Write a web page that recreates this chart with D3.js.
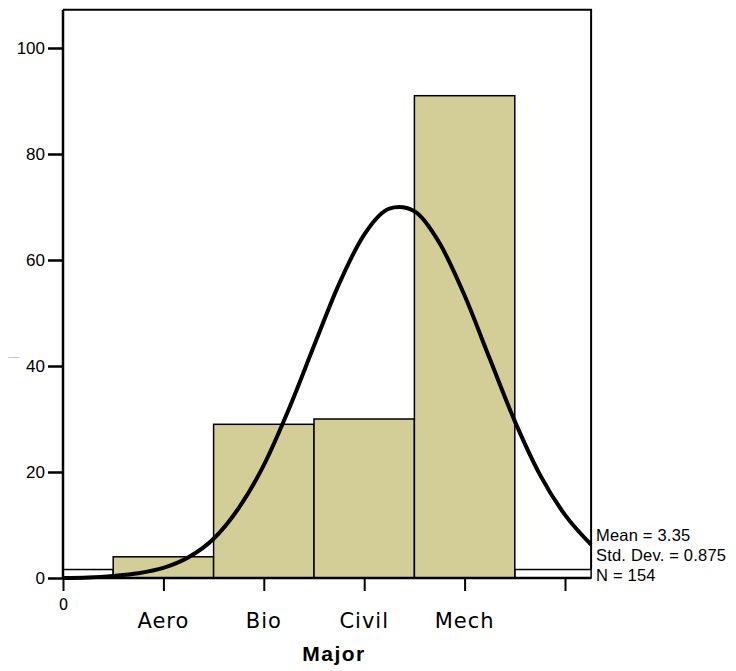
<!DOCTYPE html>
<html>
<head>
<meta charset="utf-8">
<script src="https://cdn.jsdelivr.net/npm/d3@7"></script>
<style>
body { margin: 0; background: #fff; }
</style>
</head>
<body>
<svg id="chart" width="736" height="671"></svg>
<script>
var svg = d3.select("#chart");

// data
var categories = ["Aero", "Bio", "Civil", "Mech"];
var codes = [1, 2, 3, 4];
var counts = [4, 29, 30, 91];
var edgeBins = [[0, 0.5, 1.6], [4.5, 5.26, 1.6]];
var yTicks = [0, 20, 40, 60, 80, 100];
var curveX = [0, 0.25, 0.5, 0.75, 1, 1.25, 1.5, 1.75, 2, 2.25, 2.5, 2.75, 3, 3.25, 3.35, 3.5, 3.75, 4, 4.25, 4.5, 4.75, 5, 5.26];
var curveY = [0, 0.1, 0.4, 0.9, 1.9, 3.9, 7.4, 13.2, 21.3, 31.9, 43.8, 55.5, 64.8, 69.7, 70, 69.2, 63.2, 53.3, 41.4, 29.6, 19.5, 11.9, 6.3];
var stats = ["Mean = 3.35", "Std. Dev. = 0.875", "N = 154"];

var x = d3.scaleLinear().domain([0, 5]).range([63, 565]);
var y = d3.scaleLinear().domain([0, 100]).range([578, 48]);
var xMax = 5.26, yMax = 107.2;

// frame top and right
svg.append("path")
	.attr("d", "M" + x(0) + "," + y(yMax) + "H" + x(xMax) + "V" + y(1.6))
	.attr("fill", "none")
	.attr("stroke", "#000")
	.attr("stroke-width", 2);

// edge strips
svg.selectAll(".edge").data(edgeBins).enter().append("rect")
	.attr("x", function(d) { return x(d[0]); })
	.attr("y", function(d) { return y(d[2]); })
	.attr("width", function(d) { return x(d[1]) - x(d[0]); })
	.attr("height", function(d) { return y(0) - y(d[2]); })
	.attr("fill", "#fff")
	.attr("stroke", "#000")
	.attr("stroke-width", 1.5);

// bars
svg.selectAll(".bar").data(codes).enter().append("rect")
	.attr("x", function(d) { return x(d - 0.5); })
	.attr("y", function(d, i) { return y(counts[i]); })
	.attr("width", function(d) { return x(d + 0.5) - x(d - 0.5); })
	.attr("height", function(d, i) { return y(0) - y(counts[i]); })
	.attr("fill", "#d3ce98")
	.attr("stroke", "#000")
	.attr("stroke-width", 1.5);

// normal curve
var line = d3.line()
	.x(function(d, i) { return x(curveX[i]); })
	.y(function(d) { return y(d); })
	.curve(d3.curveMonotoneX);
svg.append("path")
	.attr("d", line(curveY))
	.attr("fill", "none")
	.attr("stroke", "#000")
	.attr("stroke-width", 4)
	.attr("stroke-linejoin", "round");

// y axis
var yAxis = svg.append("g")
	.attr("transform", "translate(" + x(0) + ",0)")
	.call(d3.axisLeft(y).tickValues(yTicks).tickSize(15).tickPadding(3).tickSizeOuter(0));
yAxis.select(".domain").attr("d", "M0," + y(0) + "V" + y(yMax)).attr("stroke-width", 2.5);
yAxis.selectAll(".tick line").attr("stroke-width", 2.5);
yAxis.selectAll("text")
	.attr("font-family", "Arial, 'Liberation Sans', sans-serif")
	.attr("font-size", 17)
	.attr("fill", "#000");

// x axis
var xAxis = svg.append("g")
	.attr("transform", "translate(0," + y(0) + ")")
	.call(d3.axisBottom(x).tickValues([0, 1, 2, 3, 4, 5]).tickSize(13).tickSizeOuter(0).tickFormat(function(d) { return d === 0 ? "0" : ""; }));
xAxis.select(".domain").attr("d", "M" + x(0) + ",0H" + x(xMax)).attr("stroke-width", 2.5);
xAxis.selectAll(".tick line").attr("stroke-width", 2);
xAxis.selectAll("text")
	.attr("font-family", "'DejaVu Sans', sans-serif")
	.attr("font-size", 15)
	.attr("dy", "1.05em")
	.attr("fill", "#000");

svg.selectAll(".cat").data(categories).enter().append("text")
	.attr("x", function(d, i) { return x(codes[i]); })
	.attr("y", 628)
	.attr("text-anchor", "middle")
	.attr("font-family", "'DejaVu Sans', sans-serif")
	.attr("font-size", 21)
	.attr("letter-spacing", 1)
	.text(function(d) { return d; });

svg.append("text")
	.attr("x", 334)
	.attr("y", 661)
	.attr("text-anchor", "middle")
	.attr("font-family", "Arial, 'Liberation Sans', sans-serif")
	.attr("font-weight", "bold")
	.attr("font-size", 21)
	.attr("letter-spacing", 1.5)
	.text("Major");

// tiny y label
svg.append("text")
	.attr("x", 8)
	.attr("y", 358)
	.attr("font-family", "Arial, sans-serif")
	.attr("font-size", 2.5)
	.attr("fill", "#555")
	.text("Frequency");

// stats
svg.selectAll(".stat").data(stats).enter().append("text")
	.attr("x", 596)
	.attr("y", function(d, i) { return 541 + i * 20; })
	.attr("font-family", "Arial, 'Liberation Sans', sans-serif")
	.attr("font-size", 16.5)
	.attr("letter-spacing", 0.2)
	.text(function(d) { return d; });
</script>
</body>
</html>
